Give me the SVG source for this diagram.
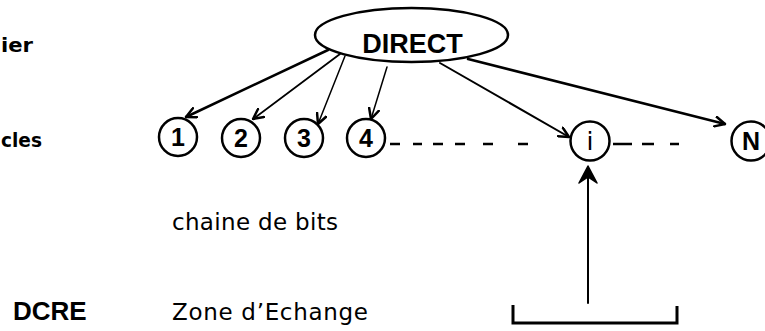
<svg xmlns="http://www.w3.org/2000/svg" width="765" height="331" viewBox="0 0 765 331">
<style>
.bold{font-family:"DejaVu Sans","Liberation Sans",sans-serif;font-weight:bold;fill:#000}
.title{font-family:"Liberation Sans","DejaVu Sans",sans-serif;font-weight:bold;fill:#000}
.reg{font-family:"DejaVu Sans","Liberation Sans",sans-serif;fill:#000}
.node{fill:#fff;stroke:#000;stroke-width:2.5}
.conn{fill:none;stroke:#000;stroke-linecap:round}
.dash{fill:none;stroke:#000;stroke-width:2.5}
.digit{font-family:"Liberation Sans","DejaVu Sans",sans-serif;font-weight:bold;font-size:25px;text-anchor:middle;fill:#000}
</style>
<defs>
<marker id="open" viewBox="0 0 12 12" refX="11" refY="6" markerWidth="12" markerHeight="12" markerUnits="userSpaceOnUse" orient="auto">
<path d="M1,1 L11,6 L1,11" fill="none" stroke="#000" stroke-width="2.5" stroke-linecap="round" stroke-linejoin="round"/>
</marker>
</defs>
<rect width="765" height="331" fill="#fff"/>

<g id="labels">
<text class="bold" x="1" y="52" font-size="20" textLength="32" lengthAdjust="spacingAndGlyphs">ier</text>
<text class="bold" x="1" y="147" font-size="20" textLength="41" lengthAdjust="spacingAndGlyphs">cles</text>
<text class="reg" x="172" y="230" font-size="23" textLength="166" lengthAdjust="spacing">chaine de bits</text>
<text class="title" x="13" y="320" font-size="26">DCRE</text>
<text class="reg" x="172" y="320" font-size="23" textLength="196" lengthAdjust="spacing">Zone d’Echange</text>
</g>

<g id="connectors">
<line class="conn" x1="328" y1="50" x2="186" y2="117" stroke-width="2.5" marker-end="url(#open)"/>
<line class="conn" x1="340" y1="54" x2="253" y2="119" stroke-width="1.8" marker-end="url(#open)"/>
<line class="conn" x1="345" y1="56" x2="318" y2="124" stroke-width="1.5" marker-end="url(#open)"/>
<line class="conn" x1="387" y1="67" x2="371" y2="119" stroke-width="1.5" marker-end="url(#open)"/>
<line class="conn" x1="440" y1="63" x2="569" y2="137" stroke-width="2" marker-end="url(#open)"/>
<line class="conn" x1="468" y1="59" x2="725" y2="124" stroke-width="2.5" marker-end="url(#open)"/>
<path class="dash" d="M390,144 H400 M413,144 H422 M433,144 H443 M455,144 H465 M483,144 H493 M518,144 H528"/>
<path class="dash" d="M613,144 H632 M642,144 H654 M670,144 H679"/>
<line class="conn" x1="588" y1="303" x2="588" y2="174" stroke-width="2"/>
<path d="M588,166 L597,183 L588,177 L579,183 Z" fill="#000" stroke="#000" stroke-width="1.5" stroke-linejoin="round"/>
<path d="M513,305 L513,323 L677,323 L677,306" fill="none" stroke="#000" stroke-width="3"/>
</g>

<g id="direct">
<ellipse class="node" cx="411.5" cy="35" rx="96.5" ry="27"/>
<text class="title" x="412.5" y="53" font-size="27" text-anchor="middle">DIRECT</text>
</g>
<g id="n1"><circle class="node" cx="178" cy="137" r="19"/><text class="digit" x="178" y="146">1</text></g>
<g id="n2"><circle class="node" cx="241" cy="138" r="19"/><text class="digit" x="241" y="147">2</text></g>
<g id="n3"><circle class="node" cx="304" cy="138" r="19"/><text class="digit" x="304" y="147">3</text></g>
<g id="n4"><circle class="node" cx="366" cy="138" r="19"/><text class="digit" x="366" y="147">4</text></g>
<g id="ni"><circle class="node" cx="590" cy="141" r="19.5"/><text class="reg" x="590" y="150" font-size="25" text-anchor="middle">i</text></g>
<g id="nN"><circle class="node" cx="751" cy="141" r="19.5"/><text class="digit" x="751" y="150">N</text></g>
</svg>
